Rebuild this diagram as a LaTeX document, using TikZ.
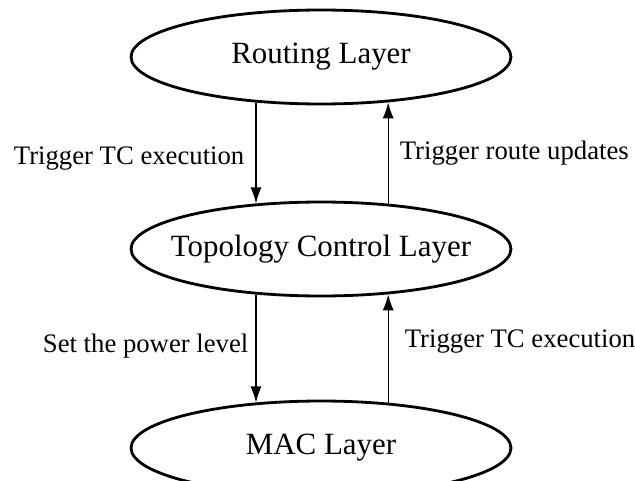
\documentclass[tikz,border=0pt]{standalone}
\usepackage{fontspec}
\setmainfont{Liberation Serif}
\usetikzlibrary{shapes.geometric,arrows.meta}

\begin{document}
\begin{tikzpicture}[x=0.02cm,y=-0.02cm,
  layer/.style={draw,ellipse,line width=1.6pt,minimum width=7.6cm,minimum height=1.88cm,
    inner sep=0pt,font=\fontsize{17.6}{20}\selectfont},
  flow/.style={-{Latex[length=0.32cm,width=0.22cm]},line width=0.75pt},
  lbl/.style={inner sep=0pt,font=\fontsize{15.2}{18}\selectfont}]
\useasboundingbox (0,0) rectangle (635,480);
\node[layer] (routing) at (321,57) {\makebox[0pt]{Routing Layer}};
\node[layer] (tcl) at (321,249) {\makebox[0pt]{Topology Control Layer}};
\node[layer] (mac) at (321,448) {\makebox[0pt]{MAC Layer}};
\draw[flow] (routing.-145.34) -- node[lbl,pos=0.55,left=0.22cm] (trigtc) {Trigger TC execution} (tcl.145.34);
\draw[flow] (tcl.34.66) -- node[lbl,pos=0.5,right=0.22cm] (trigroute) {Trigger route updates} (routing.-34.66);
\draw[flow] (tcl.-145.34) -- node[lbl,pos=0.48,left=0.14cm] (setpower) {Set the power level} (mac.145.34);
\draw[flow] (mac.34.66) -- node[lbl,pos=0.56,right=0.32cm] (mactrig) {Trigger TC execution} (tcl.-34.66);
\end{tikzpicture}
\end{document}
